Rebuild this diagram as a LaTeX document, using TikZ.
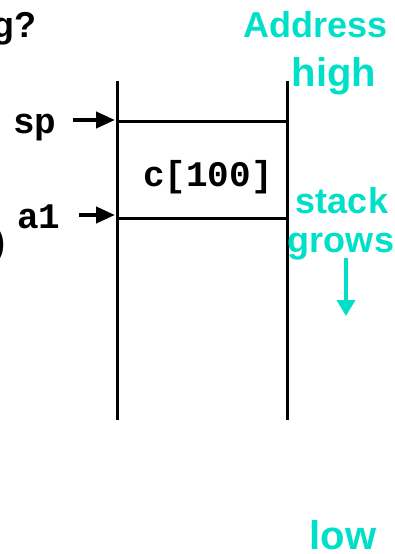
\documentclass[tikz,border=0pt]{standalone}
\usepackage{fontspec}
\setmainfont{Liberation Sans}
\setmonofont{Liberation Mono}
\usetikzlibrary{arrows.meta}
\definecolor{stackcyan}{RGB}{0,224,200}
\tikzset{
	wall/.style = {line width = 3pt},
	mono/.style = {font = \fontsize{36}{40}\selectfont\ttfamily\bfseries, inner sep = 0pt},
	note/.style = {font = \fontsize{36}{40}\selectfont\bfseries, text = stackcyan, inner sep = 0pt},
	bignote/.style = {note, font = \fontsize{40}{44}\selectfont\bfseries},
	title/.style = {font = \fontsize{36}{40}\selectfont\bfseries, inner sep = 0pt},
	ptr/.style = {line width = 4pt, -{Triangle[length = 19pt, width = 16pt]}},
	growarrow/.style = {line width = 3.5pt, stackcyan, -{Triangle[length = 16pt, width = 18pt]}}
}
\begin{document}
\begin{tikzpicture}[x = 1pt, y = -1pt]
	\useasboundingbox (0, 0) rectangle (394, 554);
	% cut off text at the left
	\node[title, anchor = base east] (ques) at (37, 37) {g?};
	\node[title, anchor = base east] (paren) at (6, 254) {)};
	% the stack
	\draw[wall] (117, 81) coordinate (lt) -- (117, 420) coordinate (lb);
	\draw[wall] (287, 81) coordinate (rt) -- (287, 420) coordinate (rb);
	\coordinate (ctop) at (117, 121);
	\coordinate (cbot) at (117, 218);
	\draw[wall] (ctop) -- (ctop -| rt);
	\draw[wall] (cbot) -- (cbot -| rt);
	\node[mono, anchor = base] (carr) at (208, 186) {c[100]};
	% pointers
	\node[mono, anchor = base] (sp) at (35, 133) {sp};
	\node[mono, anchor = base] (aone) at (39, 228) {a1};
	\coordinate (sptip) at (115, 120);
	\coordinate (atip) at (115, 215);
	\draw[ptr, shorten < = 16pt] (sp.east |- sptip) -- (sptip);
	\draw[ptr, shorten < = 18pt] (aone.east |- atip) -- (atip);
	% address labels
	\node[note, anchor = base] (addr) at (316, 37) {Address};
	\node[bignote, anchor = base] (high) at (334, 86) {high};
	\node[note, anchor = base] (stack) at (342, 213) {stack};
	\node[note, anchor = base] (grows) at (341, 252) {grows};
	\node[bignote, anchor = base] (low) at (343, 549) {low};
	\coordinate (gtop) at (346, 258);
	\coordinate (gend) at (346, 316);
	\draw[growarrow] (gtop) -- (gend);
\end{tikzpicture}
\end{document}
